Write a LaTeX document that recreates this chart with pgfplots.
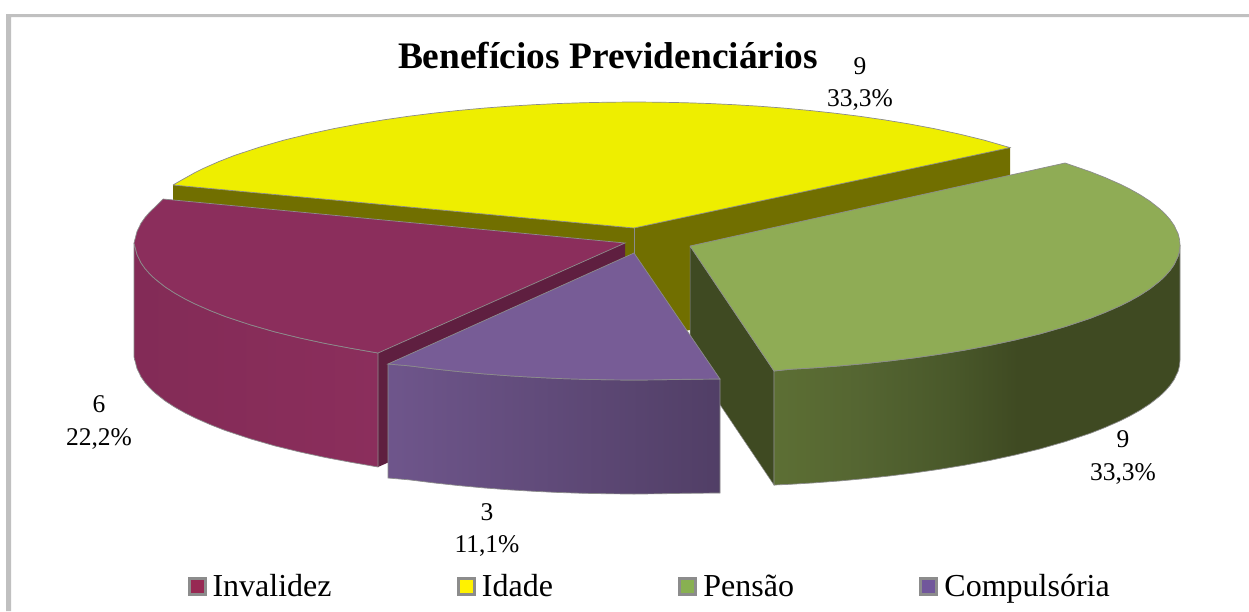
\documentclass[border=0pt]{standalone}
\usepackage{pgfplots}
\pgfplotsset{compat=1.18}
\usepackage{fontspec}
\setmainfont{Liberation Serif}
\definecolor{frameg}{HTML}{C0C0C0}
\definecolor{edgeg}{HTML}{8C8C8C}
\definecolor{ytop}{HTML}{EEEE00}
\definecolor{ywall}{HTML}{716F00}
\definecolor{mtop}{HTML}{8B2E5C}
\definecolor{mdark}{HTML}{5F1F40}
\definecolor{gtop}{HTML}{8FAC55}
\definecolor{gdark}{HTML}{3F4A22}
\definecolor{ptop}{HTML}{775C96}
\definecolor{gla}{HTML}{5D6F34}
\definecolor{glb}{HTML}{556632}
\definecolor{glc}{HTML}{49582A}
\pgfdeclarehorizontalshading{gwall}{100bp}{color(0bp)=(gla); color(25bp)=(gla); color(35bp)=(glb); color(47bp)=(glc); color(55bp)=(gdark); color(100bp)=(gdark)}
\begin{document}
\begin{tikzpicture}
\begin{axis}[
  scale only axis, width=1249pt, height=611pt,
  xmin=0, xmax=1249, ymin=0, ymax=611, y dir=reverse,
  axis lines=none, clip=false,
  legend columns=4,
  legend cell align=left,
  legend style={at={(axis cs:187.5,586)}, anchor=west, draw=none, fill=none,
    font=\fontsize{32}{34}\selectfont, inner sep=0pt, outer sep=0pt,
    /tikz/every odd column/.style={column sep=4pt},
    /tikz/every even column/.style={column sep=123.4pt}},
  legend image code/.code={\draw[#1] (0pt,-8pt) rectangle (16pt,8pt);},
]
% page
\addplot[forget plot, draw=none, fill=white] coordinates {(0,0)(1249,0)(1249,611)(0,611)};
% frame
\addplot[forget plot, draw=none, fill=frameg] coordinates {(6,14)(1249,14)(1249,17)(11,17)(11,611)(6,611)};
% Idade: wall and top
\addplot[forget plot, draw=none, fill=ywall] coordinates {(173,185)(634,228)(1010,147)(1010,261)(634,342)(173,299)};
\addplot[forget plot, draw=edgeg, line width=0.7pt, fill=ytop] coordinates {(173,185)(184,178.7)(194,173.1)(204,168.1)(219,161.5)(234,155.6)(259,147.3)(284,140.1)(309,134)(334,128.6)(359,123.9)(384,119.8)(409,116.2)(434,113.1)(459,110.4)(484,108.1)(509,106.2)(534,104.7)(559,103.5)(584,102.7)(609,102.2)(634,102)(659,102.2)(684,102.7)(709,103.5)(734,104.7)(759,106.2)(784,108.1)(809,110.4)(834,113.1)(859,116.2)(884,119.8)(909,123.9)(934,128.6)(959,134)(984,140.1)(1010,147.6)(634,228)(173,185)};
\addplot[forget plot, draw=edgeg, line width=0.7pt] coordinates {(634,228)(634,255)};
% Invalidez
\addplot[forget plot, draw=none, fill=mdark] coordinates {(378,353)(625,243)(625,357)(378,467)};
\addplot[forget plot, draw=edgeg, line width=0.7pt, left color=mtop!94!black, right color=mtop] coordinates {(134,243)(135.5,248.7)(137,254.5)(141,262.8)(145,268.5)(150,274.2)(155,278.9)(165,286.8)(175,293.3)(185,298.9)(195,303.9)(210,310.5)(225,316.4)(250,324.7)(275,331.9)(300,338)(325,343.4)(350,348.1)(378,353)(378,467)(350,462.1)(325,457.4)(300,452)(275,445.9)(250,438.7)(225,430.4)(210,424.5)(195,417.9)(185,412.9)(175,407.3)(165,400.8)(155,392.9)(150,388.2)(145,382.5)(141,376.8)(137,368.5)(135.5,362.7)(134,357)(134,243)};
\addplot[forget plot, draw=edgeg, line width=0.7pt, fill=mtop] coordinates {(163,199)(155,207.1)(150,211.8)(145,217.5)(141,223.2)(137,231.5)(135.5,237.3)(134,243)(135.5,248.7)(137,254.5)(141,262.8)(145,268.5)(150,274.2)(155,278.9)(165,286.8)(175,293.3)(185,298.9)(195,303.9)(210,310.5)(225,316.4)(250,324.7)(275,331.9)(300,338)(325,343.4)(350,348.1)(378,353)(625,243)(163,199)};
% Pensao
\addplot[forget plot, draw=edgeg, line width=0.5pt, fill=gdark] coordinates {(690,246)(774,371)(774,485)(690,360)(690,246)};
\addplot[forget plot, draw=edgeg, line width=0.7pt, shading=gwall] coordinates {(1180,245)(1179.5,250.7)(1178,256.5)(1174,264.8)(1170,270.5)(1165,276.2)(1160,280.9)(1150,288.8)(1140,295.3)(1130,300.9)(1120,305.9)(1105,312.5)(1090,318.4)(1065,326.7)(1040,333.9)(1015,340)(990,345.4)(965,350.1)(940,354.2)(915,357.8)(890,360.9)(865,363.6)(840,365.9)(815,367.8)(790,369.3)(774,371)(774,485)(790,484.3)(815,482.8)(840,480.9)(865,478.6)(890,475.9)(915,472.8)(940,469.2)(965,465.1)(990,460.4)(1015,455)(1040,448.9)(1065,441.7)(1090,433.4)(1105,427.5)(1120,420.9)(1130,415.9)(1140,410.3)(1150,403.8)(1160,395.9)(1165,391.2)(1170,385.5)(1174,379.8)(1178,371.5)(1179.5,365.7)(1180,360)(1180,245)};
\addplot[forget plot, draw=edgeg, line width=0.7pt, fill=gtop] coordinates {(690,246)(1065,163)(1090,171.6)(1105,177.5)(1120,184.1)(1130,189.1)(1140,194.7)(1150,201.2)(1160,209.1)(1165,213.8)(1170,219.5)(1174,225.2)(1178,233.5)(1179.5,239.3)(1180,245)(1179.5,250.7)(1178,256.5)(1174,264.8)(1170,270.5)(1165,276.2)(1160,280.9)(1150,288.8)(1140,295.3)(1130,300.9)(1120,305.9)(1105,312.5)(1090,318.4)(1065,326.7)(1040,333.9)(1015,340)(990,345.4)(965,350.1)(940,354.2)(915,357.8)(890,360.9)(865,363.6)(840,365.9)(815,367.8)(790,369.3)(774,371)(690,246)};
% Compulsoria
\addplot[forget plot, draw=edgeg, line width=0.7pt, left color=ptop!93!black, right color=ptop!68!black] coordinates {(388,364)(409,365.8)(434,368.9)(459,371.6)(484,373.9)(509,375.8)(534,377.3)(559,378.5)(584,379.3)(609,379.8)(634,380)(659,379.8)(684,379.3)(720,379)(720,493)(684,493.3)(659,493.8)(634,494)(609,493.8)(584,493.3)(559,492.5)(534,491.3)(509,489.8)(484,487.9)(459,485.6)(434,482.9)(409,479.8)(388,478)(388,364)};
\addplot[forget plot, draw=edgeg, line width=0.7pt, fill=ptop] coordinates {(634,253)(388,364)(409,365.8)(434,368.9)(459,371.6)(484,373.9)(509,375.8)(534,377.3)(559,378.5)(584,379.3)(609,379.8)(634,380)(659,379.8)(684,379.3)(720,379)(634,253)};
% text
\node[anchor=center, font=\fontsize{37.4}{39}\selectfont\bfseries] at (axis cs:608,56) {Benefícios Previdenciários};
\node[align=center, font=\fontsize{25.5}{32}\selectfont] at (axis cs:860,84.5) {9\\33,3\%};
\node[align=center, font=\fontsize{25.5}{32.5}\selectfont] at (axis cs:99,422.5) {6\\22,2\%};
\node[align=center, font=\fontsize{25.5}{33}\selectfont] at (axis cs:1123,458) {9\\33,3\%};
\node[align=center, font=\fontsize{25.5}{32}\selectfont] at (axis cs:487,530) {3\\11,1\%};
% legend
\addlegendimage{draw=edgeg, line width=3pt, fill=mtop!90!red}
\addlegendentry{Invalidez}
\addlegendimage{draw=edgeg, line width=3pt, fill=yellow}
\addlegendentry{Idade}
\addlegendimage{draw=edgeg, line width=3pt, fill=gtop!95!green}
\addlegendentry{Pensão}
\addlegendimage{draw=edgeg, line width=3pt, fill=ptop!95!blue}
\addlegendentry{Compulsória}
\end{axis}
\end{tikzpicture}
\end{document}
